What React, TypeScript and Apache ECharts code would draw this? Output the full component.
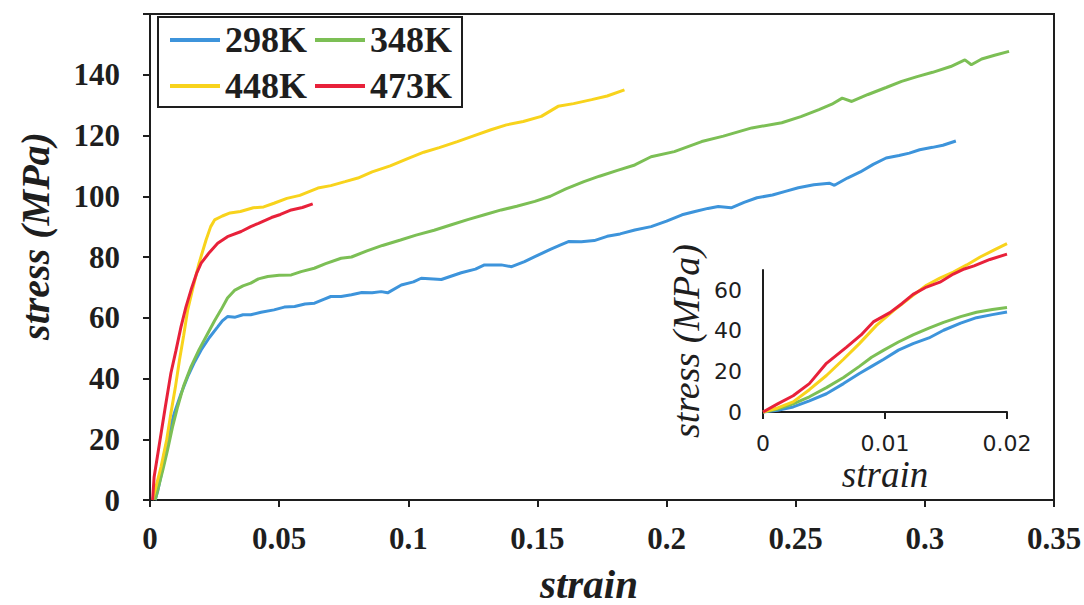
import React, { useEffect, useRef } from "react";
import * as echarts from "echarts";

// ---- Main chart data: [strain, stress (MPa)] ----
const seriesNames = ["298K", "348K", "448K", "473K"];
const seriesColors = ["#3d94db", "#7cbf55", "#f8d31c", "#e8213a"];

const k298: number[][] = [
  [0.002, 0], [0.003, 3], [0.0045, 9], [0.0055, 15], [0.007, 21], [0.0094, 28.6], [0.012, 35],
  [0.0146, 40.6], [0.017, 45], [0.0198, 49.4], [0.023, 53.5], [0.0262, 57], [0.028, 59], [0.03, 60.4],
  [0.033, 60.2], [0.036, 61], [0.039, 61], [0.043, 61.8], [0.048, 62.6], [0.052, 63.5], [0.056, 63.7],
  [0.06, 64.5], [0.0637, 64.8], [0.067, 66], [0.07, 67], [0.074, 67], [0.078, 67.6], [0.082, 68.3],
  [0.086, 68.2], [0.0895, 68.6], [0.092, 68.2], [0.0973, 70.8], [0.102, 71.8], [0.105, 73], [0.1128, 72.6],
  [0.1205, 74.8], [0.126, 76], [0.1295, 77.4], [0.136, 77.4], [0.14, 76.8], [0.145, 78.5], [0.149, 80.1],
  [0.155, 82.5], [0.159, 84], [0.162, 85.1], [0.167, 85], [0.172, 85.4], [0.177, 86.8], [0.182, 87.6],
  [0.1877, 88.9], [0.194, 90], [0.2, 91.8], [0.206, 93.9], [0.211, 95], [0.216, 96], [0.22, 96.6],
  [0.225, 96.2], [0.23, 98], [0.235, 99.5], [0.241, 100.4], [0.246, 101.6], [0.251, 102.8], [0.257, 103.8],
  [0.263, 104.3], [0.265, 103.6], [0.27, 106], [0.275, 108], [0.28, 110.5], [0.285, 112.6], [0.29, 113.4],
  [0.294, 114.2], [0.298, 115.3], [0.303, 116.1], [0.307, 116.8], [0.312, 118.2]
];

const k348: number[][] = [
  [0.002, 0], [0.003, 3.3], [0.005, 10], [0.0068, 16.5], [0.0087, 24], [0.0107, 30.7], [0.013, 37.5],
  [0.0159, 43.9], [0.019, 49.5], [0.0224, 54.9], [0.025, 59], [0.0275, 62.6], [0.03, 66.5], [0.0327, 69],
  [0.036, 70.5], [0.039, 71.4], [0.042, 72.8], [0.0456, 73.6], [0.05, 74], [0.0547, 74.1], [0.0585, 75.2],
  [0.0636, 76.3], [0.068, 77.8], [0.074, 79.6], [0.078, 80], [0.084, 82], [0.09, 83.8], [0.097, 85.6],
  [0.103, 87.2], [0.11, 88.8], [0.1167, 90.6], [0.123, 92.3], [0.1295, 93.9], [0.136, 95.5], [0.142, 96.7],
  [0.149, 98.3], [0.155, 100], [0.161, 102.4], [0.168, 104.8], [0.174, 106.6], [0.181, 108.5],
  [0.1877, 110.3], [0.194, 113], [0.203, 114.7], [0.2136, 118], [0.222, 119.8], [0.233, 122.5],
  [0.2446, 124.2], [0.252, 126.2], [0.259, 128.5], [0.264, 130.3], [0.268, 132.3], [0.2717, 131.2],
  [0.278, 133.5], [0.285, 135.8], [0.291, 137.8], [0.297, 139.4], [0.303, 140.8], [0.31, 142.7],
  [0.3155, 144.9], [0.318, 143.3], [0.322, 145.2], [0.327, 146.4], [0.3326, 147.7]
];

const k448: number[][] = [
  [0.001, 0], [0.0043, 11], [0.0065, 20], [0.0081, 28.6], [0.0098, 37], [0.0114, 46], [0.013, 54],
  [0.0146, 62.6], [0.0168, 70.5], [0.019, 78], [0.0217, 85.6], [0.0235, 90], [0.025, 92.2], [0.028, 93.5],
  [0.031, 94.5], [0.035, 95], [0.04, 96.2], [0.044, 96.5], [0.048, 97.7], [0.053, 99.3], [0.058, 100.3],
  [0.065, 102.7], [0.07, 103.5], [0.0755, 104.8], [0.0805, 106], [0.086, 108], [0.093, 110], [0.1, 112.5],
  [0.106, 114.5], [0.112, 116], [0.119, 118], [0.125, 119.8], [0.132, 121.9], [0.138, 123.5],
  [0.1445, 124.6], [0.1515, 126.3], [0.158, 129.6], [0.164, 130.5], [0.171, 131.8], [0.177, 133],
  [0.1837, 135]
];

const k473: number[][] = [
  [0.001, 0], [0.0016, 7.6], [0.0043, 22], [0.006, 31], [0.0081, 41.8], [0.01, 49], [0.012, 57],
  [0.0139, 63.5], [0.0159, 69.2], [0.018, 74.5], [0.0198, 78], [0.023, 81.5], [0.0262, 84.5], [0.03, 86.7],
  [0.0353, 88.4], [0.039, 90], [0.042, 91.1], [0.047, 93], [0.0505, 94], [0.0547, 95.5], [0.059, 96.3],
  [0.063, 97.5]
];

// ---- Inset data (strain 0 - 0.02) ----
const inset298: number[][] = [
  [0, 0], [0.0012, 0.8], [0.00247, 2.5], [0.0038, 5.5], [0.0052, 9], [0.0066, 14], [0.0079, 19],
  [0.0089, 22.5], [0.0099, 26], [0.0111, 30.5], [0.0123, 33.7], [0.0136, 36.5], [0.0148, 40.3],
  [0.0162, 43.8], [0.0175, 46.5], [0.0188, 48], [0.02, 49.3]
];
const inset348: number[][] = [
  [0, 0], [0.0012, 1.5], [0.00247, 4], [0.0038, 7.5], [0.0052, 12], [0.0066, 17], [0.0079, 22.5],
  [0.0089, 27], [0.0099, 30.5], [0.0111, 34.5], [0.0123, 38], [0.0136, 41.3], [0.0148, 44.2],
  [0.0162, 47], [0.0175, 49.2], [0.0188, 50.5], [0.02, 51.5]
];
const inset448: number[][] = [
  [0, 0], [0.0012, 2], [0.00247, 5], [0.0038, 11], [0.0052, 18], [0.0066, 26], [0.0079, 33.7],
  [0.0093, 42.7], [0.0107, 50], [0.0123, 57.5], [0.0134, 62.5], [0.0145, 66], [0.0156, 69],
  [0.0167, 72.5], [0.0178, 76.4], [0.019, 80], [0.02, 83]
];
const inset473: number[][] = [
  [0, 0], [0.0012, 4], [0.00247, 8], [0.0038, 14], [0.0052, 24], [0.00685, 32], [0.00804, 38],
  [0.00904, 44.4], [0.0104, 49], [0.0114, 53.5], [0.0123, 58], [0.0134, 61.6], [0.0145, 64],
  [0.0156, 68], [0.0165, 70.5], [0.0173, 72], [0.0186, 75.2], [0.02, 77.8]
];

const mainData = [k298, k348, k448, k473];
const insetData = [inset298, inset348, inset448, inset473];

const INK = "#1e1e1e";
const SERIF = "Liberation Serif";
const SANS = "DejaVu Sans";

export default function App() {
  const ref = useRef<HTMLDivElement>(null);

  useEffect(() => {
    if (!ref.current) return;
    const chart = echarts.init(ref.current, undefined, { renderer: "svg" });

    const mainSeries = mainData.map((d, i) => ({
      name: seriesNames[i],
      type: "line",
      xAxisIndex: 0,
      yAxisIndex: 0,
      data: d,
      showSymbol: false,
      symbol: "none",
      smooth: false,
      lineStyle: { color: seriesColors[i], width: 3 },
      itemStyle: { color: seriesColors[i] },
      z: 3,
    }));
    const insetSeries = insetData.map((d, i) => ({
      name: seriesNames[i],
      type: "line",
      xAxisIndex: 1,
      yAxisIndex: 1,
      data: d,
      showSymbol: false,
      symbol: "none",
      clip: false,
      lineStyle: { color: seriesColors[i], width: 3 },
      itemStyle: { color: seriesColors[i] },
      z: 3,
    }));

    chart.setOption({
      animation: false,
      backgroundColor: "#ffffff",
      legend: {
        data: seriesNames,
        left: 158,
        top: 17,
        width: 300,
        orient: "horizontal",
        itemWidth: 50,
        itemHeight: 4,
        itemGap: 8,
        icon: "rect",
        padding: [4, 10, 2, 12],
        borderColor: INK,
        borderWidth: 2,
        borderRadius: 0,
        backgroundColor: "#ffffff",
        textStyle: {
          fontFamily: SERIF,
          fontWeight: "bold",
          fontSize: 36,
          lineHeight: 38,
          color: INK,
        },
      },
      grid: [
        {
          left: 150,
          right: 30,
          top: 14,
          bottom: 105,
          show: true,
          containLabel: false,
          outerBoundsMode: "none",
          borderColor: INK,
          borderWidth: 2,
          backgroundColor: "transparent",
        },
        {
          left: 763,
          right: 77,
          top: 270,
          bottom: 193,
          show: false,
          containLabel: false,
          outerBoundsMode: "none",
        },
      ],
      xAxis: [
        {
          type: "value",
          gridIndex: 0,
          min: 0,
          max: 0.35,
          interval: 0.05,
          name: "strain",
          nameLocation: "middle",
          nameGap: 63,
          nameTextStyle: {
            fontFamily: SERIF,
            fontStyle: "italic",
            fontWeight: "bold",
            fontSize: 41,
            color: INK,
            padding: [0, 26, 0, 0],
          },
          axisLine: { show: true, lineStyle: { color: INK, width: 2 } },
          axisTick: { show: true, inside: false, length: 7, lineStyle: { color: INK, width: 2 } },
          splitLine: { show: false },
          axisLabel: {
            margin: 23,
            fontFamily: SERIF,
            fontWeight: "bold",
            fontSize: 31,
            color: INK,
            formatter: (v: number) => String(Math.round(v * 100) / 100),
          },
        },
        {
          type: "value",
          gridIndex: 1,
          min: 0,
          max: 0.02,
          interval: 0.01,
          name: "strain",
          nameLocation: "middle",
          nameGap: 44,
          nameTextStyle: {
            fontFamily: SERIF,
            fontStyle: "italic",
            fontSize: 37,
            color: INK,
          },
          axisLine: { show: true, lineStyle: { color: INK, width: 2 } },
          axisTick: { show: true, inside: false, length: 7, lineStyle: { color: INK, width: 2 } },
          splitLine: { show: false },
          axisLabel: {
            margin: 20,
            fontFamily: SANS,
            fontSize: 22,
            color: INK,
            formatter: (v: number) => String(Math.round(v * 1000) / 1000),
          },
        },
      ],
      yAxis: [
        {
          type: "value",
          gridIndex: 0,
          min: 0,
          max: 160,
          interval: 20,
          name: "stress (MPa)",
          nameLocation: "middle",
          nameGap: 95,
          nameTextStyle: {
            fontFamily: SERIF,
            fontStyle: "italic",
            fontWeight: "bold",
            fontSize: 40,
            color: INK,
            padding: [0, 0, 0, 42],
          },
          axisLine: { show: true, lineStyle: { color: INK, width: 2 } },
          axisTick: { show: true, inside: false, length: 7, lineStyle: { color: INK, width: 2 } },
          splitLine: { show: false },
          axisLabel: {
            margin: 30,
            fontFamily: SERIF,
            fontWeight: "bold",
            fontSize: 31,
            color: INK,
            formatter: (v: number) => (v >= 160 ? "" : String(v)),
          },
        },
        {
          type: "value",
          gridIndex: 1,
          min: 0,
          max: 70,
          interval: 20,
          name: "stress (MPa)",
          nameLocation: "middle",
          nameGap: 58,
          nameTextStyle: {
            fontFamily: SERIF,
            fontStyle: "italic",
            fontSize: 38,
            color: INK,
          },
          axisLine: { show: true, lineStyle: { color: INK, width: 2 } },
          axisTick: { show: false },
          splitLine: { show: false },
          axisLabel: {
            margin: 21,
            fontFamily: SANS,
            fontSize: 22,
            color: INK,
            formatter: (v: number) => (v > 60 ? "" : String(v)),
          },
        },
      ],
      series: [...mainSeries, ...insetSeries],
    });

    return () => {
      chart.dispose();
    };
  }, []);

  return (
    <div
      ref={ref}
      style={{ position: "fixed", left: 0, top: 0, width: 1084, height: 605, background: "#fff" }}
    />
  );
}
